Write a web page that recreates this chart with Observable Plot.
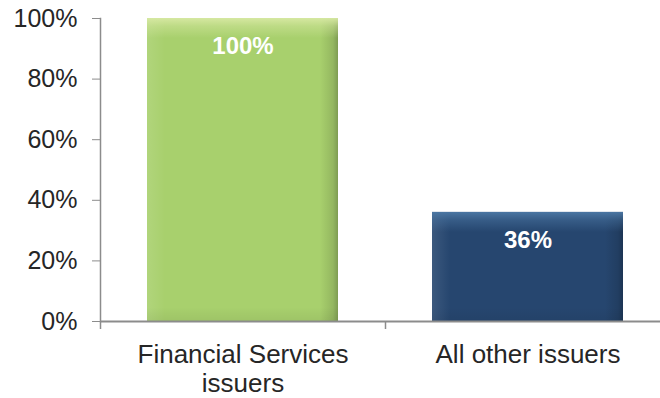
<!DOCTYPE html>
<html>
<head>
<meta charset="utf-8">
<script src="https://cdn.jsdelivr.net/npm/d3@7"></script>
<script src="https://cdn.jsdelivr.net/npm/@observablehq/plot@0.6"></script>
<style>
  html, body { margin: 0; padding: 0; background: #ffffff; }
  #chart { width: 660px; height: 398px; overflow: hidden; }
</style>
</head>
<body>
<div id="chart"></div>
<script>
// ---- data ----
const categories = ["Financial Services\nissuers", "All other issuers"];
const values = [1.00, 0.36];
const barColors = ["#A8D06D", "#26466F"];
const topColors = ["#D8E9A4", "#4C78A5"];
const yTicks = [0, 0.2, 0.4, 0.6, 0.8, 1.0];

const data = categories.map((c, i) => ({cat: c, value: values[i], color: barColors[i], idx: i}));

// ---- layout ----
const W = 660, H = 398;
const mL = 100, mR = -10, mT = 18, mB = 77;
const padIn = 0.33, padOut = 0.165;
const step = (W - mL - mR) / (categories.length - padIn + 2 * padOut);
const axisGray = "#8C8C8C";
const textColor = "#262626";

const plot = Plot.plot({
  width: W, height: H,
  marginLeft: mL, marginRight: mR, marginTop: mT, marginBottom: mB,
  style: {fontFamily: "'Liberation Sans', Arial, sans-serif", background: "white", overflow: "visible"},
  x: {domain: categories, paddingInner: padIn, paddingOuter: padOut, axis: null},
  y: {domain: [0, 1], axis: null},
  color: {type: "identity"},
  marks: [
    Plot.barY(data, {x: "cat", y: "value", fill: "color"}),
    Plot.barY(data, {x: "cat", y: "value", fill: d => `url(#hg${d.idx})`}),
    Plot.barY(data, {x: "cat", y: "value", fill: d => `url(#vg${d.idx})`}),
    Plot.text(data, {x: "cat", y: "value", text: d => d3.format(".0%")(d.value),
      dy: 28, fill: "white", fontWeight: "bold", fontSize: 24, lineAnchor: "middle"}),
    Plot.frame({anchor: "left", stroke: axisGray, strokeWidth: 1.5}),
    Plot.ruleY([0], {stroke: axisGray, strokeWidth: 2}),
    Plot.axisY({ticks: yTicks, tickFormat: d3.format(".0%"), tickSize: 8, tickPadding: 15,
      fontSize: 25, stroke: axisGray, fill: textColor, label: null}),
    Plot.axisX({ticks: categories, tickSize: 8, tickFormat: () => "", dx: -step / 2,
      stroke: axisGray, strokeWidth: 1.5, label: null}),
    Plot.axisX({ticks: categories, tickSize: 0, tickPadding: 21, fontSize: 26, lineHeight: 1.12,
      fill: textColor, label: null})
  ]
});

// bevel gradients computed from the scales
const ys = plot.scale("y"), xs = plot.scale("x");
const bw = xs.bandwidth;
const ns = "http://www.w3.org/2000/svg";
const defs = document.createElementNS(ns, "defs");
function grad(id, horiz, stops) {
  const g = document.createElementNS(ns, "linearGradient");
  g.setAttribute("id", id);
  g.setAttribute("x1", 0); g.setAttribute("y1", 0);
  g.setAttribute("x2", horiz ? 1 : 0); g.setAttribute("y2", horiz ? 0 : 1);
  for (const [o, c, a] of stops) {
    const s = document.createElementNS(ns, "stop");
    s.setAttribute("offset", Math.max(0, Math.min(1, o)));
    s.setAttribute("stop-color", c);
    s.setAttribute("stop-opacity", a);
    g.appendChild(s);
  }
  defs.appendChild(g);
}
values.forEach((v, i) => {
  const h = ys.apply(0) - ys.apply(v);
  const b = 20 / h, bb = 14 / h;
  grad(`vg${i}`, false, [
    [0, topColors[i], 0.95], [b * 0.4, topColors[i], 0.45], [b, topColors[i], 0],
    [1 - bb, "#000", 0], [1, "#000", 0.06]
  ]);
  const e = 18 / bw;
  grad(`hg${i}`, true, [
    [0, "#fff", 0.1], [e, "#fff", 0],
    [1 - e, "#000", 0], [1 - 5 / bw, "#000", 0.12], [1, "#000", 0.25]
  ]);
});
plot.insertBefore(defs, plot.firstChild);

document.getElementById("chart").appendChild(plot);
</script>
</body>
</html>
